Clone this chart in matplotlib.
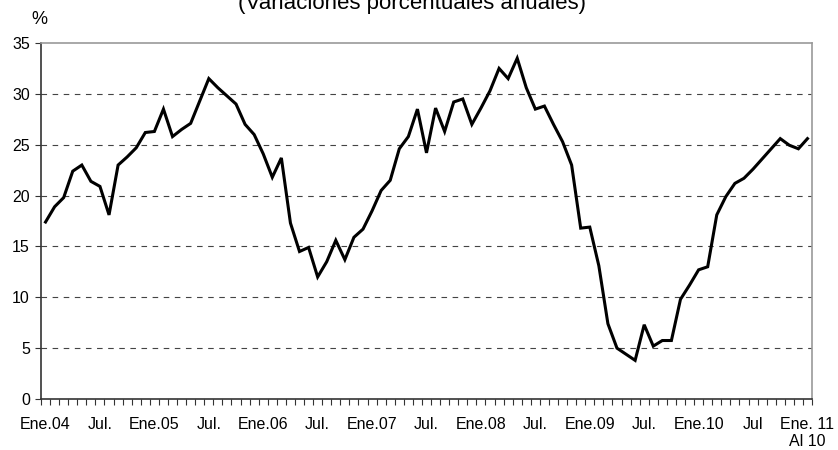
import matplotlib
matplotlib.use("Agg")
import matplotlib.pyplot as plt

plt.rcParams['font.family'] = ['Liberation Sans', 'DejaVu Sans']

# monthly annual % change, Ene.04 .. Ene.11
values = [17.4, 18.9, 19.8, 22.4, 23.0, 21.4, 20.9, 18.1, 23.0, 23.8,
          24.7, 26.2, 26.3, 28.5, 25.8, 26.5, 27.1, 29.3, 31.5, 30.6,
          29.8, 29.0, 27.0, 26.0, 24.1, 21.8, 23.7, 17.3, 14.5, 14.9,
          12.0, 13.5, 15.6, 13.7, 15.9, 16.7, 18.5, 20.5, 21.5, 24.6,
          25.8, 28.5, 24.2, 28.6, 26.3, 29.2, 29.5, 27.0, 28.6, 30.3,
          32.5, 31.5, 33.5, 30.6, 28.5, 28.8, 27.0, 25.3, 23.0, 16.8,
          16.9, 13.1, 7.4, 5.0, 4.4, 3.8, 7.3, 5.2, 5.75, 5.75,
          9.8, 11.2, 12.7, 13.0, 18.1, 19.9, 21.2, 21.7, 22.6, 23.6,
          24.6, 25.6, 24.95, 24.6, 25.6]
tick_labels = ['Ene.04', 'Jul.', 'Ene.05', 'Jul.', 'Ene.06', 'Jul.',
               'Ene.07', 'Jul.', 'Ene.08', 'Jul.', 'Ene.09', 'Jul.',
               'Ene.10', 'Jul', 'Ene. 11\nAl 10']
y_ticks = [0, 5, 10, 15, 20, 25, 30, 35]

fig = plt.figure(figsize=(8.38, 4.5), dpi=100)
ax = fig.add_axes([41 / 838, 51 / 450, 771 / 838, 356 / 450])

x = list(range(len(values)))
ax.plot(x, values, color='black', linewidth=2.2, solid_joinstyle='miter', zorder=3)

ax.set_xlim(-0.5, len(values) - 0.5)
ax.set_ylim(0, 35)

ax.set_yticks(y_ticks)
for t in y_ticks[1:-1]:
    ax.axhline(t, color='#444444', linewidth=0.8, linestyle=(0, (5, 5)), zorder=1)

ax.set_xticks(list(range(0, len(values), 6)))
ax.set_xticklabels(tick_labels, fontsize=11.5, linespacing=1.15, va='top')
ax.set_xticks([i - 0.5 for i in range(len(values) + 1)], minor=True)
ax.tick_params(axis='x', which='major', length=0, pad=13)
ax.tick_params(axis='x', which='minor', length=4, width=0.8, color='#333333', direction='out')
ax.tick_params(axis='y', length=4, width=0.8, color='#333333', labelsize=11.5, pad=4)

for s in ['top', 'right']:
    ax.spines[s].set_color('#999999')
    ax.spines[s].set_linewidth(1.2)
for s in ['left', 'bottom']:
    ax.spines[s].set_color('#333333')
    ax.spines[s].set_linewidth(1.2)

fig.text(412 / 838, 1 - 9 / 450, '(Variaciones porcentuales anuales)',
         ha='center', va='baseline', fontsize=16)
fig.text(39 / 838, 1 - 19 / 450, '%', ha='center', va='center', fontsize=13)

fig.savefig('out.png', dpi=100)
